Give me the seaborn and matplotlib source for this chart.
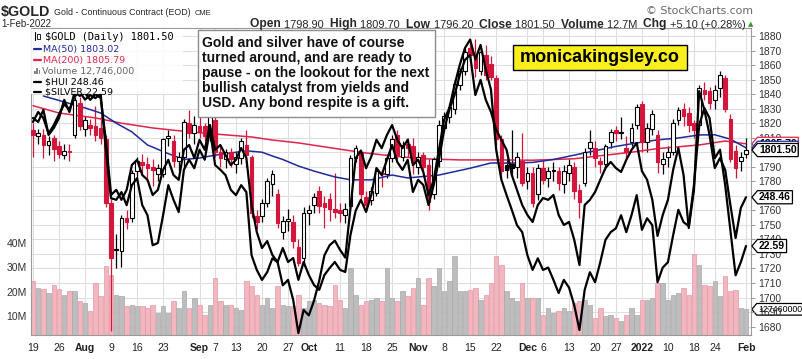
import numpy as np
import pandas as pd
import matplotlib
matplotlib.use("Agg")
import matplotlib.pyplot as plt
import matplotlib.transforms as mtransforms
from matplotlib.patches import Rectangle
from matplotlib.lines import Line2D
from matplotlib.path import Path
import seaborn as sns

W, H = 803, 359

# ---------------- data ----------------
holidays = pd.to_datetime(["2021-09-06", "2021-11-25", "2021-12-24", "2022-01-17"])
dates = pd.bdate_range("2021-07-19", "2022-02-01")
dates = dates[~dates.isin(holidays)]

opens = [1815, 1811, 1812, 1805, 1810, 1804, 1798, 1801, 1812, 1834,
         1816, 1819, 1818, 1817, 1809, 1765, 1733, 1732, 1755, 1755,
         1787, 1793, 1792, 1790, 1785, 1785, 1810, 1808, 1794, 1797,
         1820, 1813, 1818, 1818, 1812, 1822, 1800, 1795, 1800, 1792,
         1796, 1805, 1797, 1756, 1756, 1765, 1778, 1771, 1745, 1753,
         1752, 1735, 1727, 1758, 1764, 1773, 1765, 1768, 1761, 1760,
         1757, 1763, 1796, 1800, 1769, 1767, 1772, 1786, 1785, 1796,
         1812, 1797, 1806, 1804, 1790, 1798, 1791, 1771, 1794, 1817,
         1824, 1830, 1846, 1856, 1872, 1866, 1856, 1867, 1861, 1851,
         1809, 1791, 1792, 1790, 1794, 1780, 1786, 1771, 1789, 1782,
         1787, 1787, 1778, 1786, 1790, 1774, 1779, 1803, 1803, 1794,
         1792, 1807, 1815, 1813, 1803, 1807, 1819, 1833, 1807, 1816,
         1812, 1792, 1797, 1800, 1822, 1830, 1827, 1820, 1819, 1843,
         1842, 1836, 1844, 1851, 1823, 1801, 1794, 1798.9]
highs = [1820, 1816, 1816, 1811, 1812, 1808, 1806, 1806, 1838, 1838,
         1825, 1823, 1832, 1825, 1812, 1768, 1744, 1757, 1760, 1788,
         1797, 1799, 1797, 1795, 1792, 1810, 1815, 1812, 1800, 1823,
         1829, 1825, 1824, 1820, 1834, 1826, 1804, 1802, 1803, 1800,
         1810, 1815, 1798, 1760, 1768, 1782, 1788, 1775, 1756, 1761,
         1757, 1740, 1762, 1764, 1772, 1777, 1770, 1772, 1786, 1765,
         1765, 1798, 1805, 1801, 1773, 1776, 1789, 1788, 1799, 1812,
         1815, 1808, 1810, 1810, 1800, 1800, 1795, 1797, 1822, 1828,
         1833, 1850, 1858, 1872, 1876, 1878, 1872, 1874, 1866, 1853,
         1812, 1795, 1815, 1800, 1813, 1790, 1790, 1792, 1795, 1790,
         1793, 1790, 1791, 1795, 1793, 1778, 1803, 1815, 1808, 1797,
         1806, 1816, 1818, 1824, 1811, 1820, 1833, 1835, 1820, 1829,
         1815, 1800, 1804, 1823, 1831, 1834, 1831, 1822, 1846, 1848,
         1845, 1846, 1856, 1853, 1826, 1805, 1800, 1809.7]
lows = [1797, 1806, 1796, 1798, 1794, 1796, 1795, 1794, 1810, 1815,
        1811, 1812, 1808, 1806, 1762, 1677, 1720, 1721, 1747, 1752,
        1780, 1785, 1780, 1777, 1780, 1783, 1804, 1790, 1787, 1790,
        1810, 1806, 1810, 1808, 1808, 1797, 1790, 1789, 1790, 1786,
        1792, 1790, 1755, 1747, 1752, 1762, 1770, 1748, 1740, 1746,
        1734, 1722, 1722, 1750, 1758, 1758, 1748, 1753, 1755, 1752,
        1751, 1760, 1793, 1766, 1760, 1764, 1770, 1776, 1782, 1793,
        1795, 1794, 1797, 1785, 1785, 1787, 1760, 1768, 1790, 1814,
        1820, 1826, 1843, 1853, 1862, 1852, 1853, 1850, 1850, 1805,
        1782, 1782, 1784, 1782, 1777, 1775, 1762, 1767, 1778, 1776,
        1780, 1774, 1772, 1780, 1768, 1755, 1777, 1798, 1790, 1786,
        1788, 1803, 1808, 1809, 1796, 1804, 1816, 1800, 1800, 1812,
        1786, 1785, 1790, 1798, 1819, 1818, 1814, 1810, 1816, 1836,
        1830, 1830, 1838, 1828, 1793, 1782, 1787, 1796.2]
closes = [1812, 1813, 1805, 1808, 1802, 1799, 1801, 1800, 1836, 1818,
          1822, 1817, 1812, 1810, 1765, 1727, 1733, 1755, 1752, 1786,
          1794, 1791, 1789, 1788, 1789, 1809, 1811, 1794, 1797, 1821,
          1813, 1819, 1814, 1811, 1826, 1800, 1796, 1800, 1795, 1797,
          1808, 1798, 1758, 1752, 1765, 1780, 1785, 1751, 1753, 1754,
          1739, 1724, 1758, 1760, 1769, 1763, 1762, 1761, 1759, 1758,
          1761, 1796, 1803, 1771, 1764, 1773, 1787, 1785, 1796, 1809,
          1798, 1805, 1803, 1794, 1797, 1790, 1766, 1795, 1819, 1825,
          1831, 1847, 1856, 1869, 1867, 1858, 1869, 1853, 1852, 1809,
          1787, 1788, 1789, 1797, 1779, 1786, 1765, 1789, 1781, 1787,
          1787, 1779, 1787, 1791, 1773, 1766, 1800, 1807, 1796, 1792,
          1804, 1814, 1813, 1814, 1800, 1817, 1831, 1807, 1817, 1826,
          1793, 1795, 1800, 1820, 1829, 1825, 1819, 1815, 1844, 1840,
          1834, 1843, 1853, 1830, 1795, 1789, 1796.4, 1801.5]
prior_close = 1815

volume_m = [24.5, 21.5, 21.2, 19.4, 22.8, 21.2, 18.8, 20.1, 20.1, 16.0,
            15.3, 11.9, 23.5, 18.1, 30.4, 27.0, 18.8, 18.1, 14.0, 14.7,
            14.0, 14.0, 13.3, 14.7, 11.3, 14.0, 11.3, 16.0, 13.3, 20.1,
            13.3, 17.4, 14.7, 10.6, 14.7, 25.6, 16.0, 14.7, 14.7, 13.3,
            12.6, 24.2, 22.2, 18.8, 14.7, 17.4, 13.3, 22.2, 14.7, 14.0,
            14.0, 18.8, 13.3, 16.0, 16.7, 15.3, 14.7, 14.0, 22.8, 16.7,
            13.3, 29.7, 18.8, 14.7, 16.0, 16.7, 17.4, 16.0, 29.7, 17.4,
            16.0, 20.1, 18.1, 21.5, 25.6, 14.7, 25.6, 22.2, 29.7, 20.1,
            24.2, 34.6, 20.1, 20.1, 20.8, 21.5, 16.7, 18.8, 23.5, 34.6,
            31.1, 20.1, 17.4, 16.0, 23.5, 17.4, 17.4, 17.4, 10.6, 13.3,
            11.3, 11.9, 13.3, 11.9, 15.3, 16.0, 16.7, 14.7, 9.2, 13.3,
            9.9, 10.6, 9.2, 7.8, 10.6, 13.3, 10.6, 16.7, 16.7, 17.4,
            23.5, 23.5, 16.7, 18.8, 19.4, 21.5, 18.8, 35.3, 31.1, 22.8,
            22.2, 24.2, 18.1, 26.3, 20.1, 20.8, 13.3, 12.746]

hui = [274.6, 273.3, 277.3, 269.0, 271.3, 274.6, 280.6, 276.6, 283.2, 281.9,
       282.9, 280.6, 282.5, 281.2, 267.4, 249.2, 250.9, 247.6, 250.9, 259.1,
       260.8, 255.8, 254.2, 249.2, 250.9, 257.5, 260.8, 255.8, 254.2, 264.1,
       265.7, 261.4, 267.4, 264.1, 272.3, 264.1, 265.7, 262.4, 259.1, 260.8,
       264.7, 261.4, 245.9, 237.0, 231.7, 234.0, 229.4, 227.1, 231.7, 227.1,
       228.4, 221.2, 227.1, 222.8, 219.5, 217.9, 222.8, 225.1, 227.1, 224.5,
       223.8, 236.0, 244.0, 247.6, 243.6, 249.2, 258.1, 255.8, 260.8, 265.7,
       260.1, 257.5, 260.8, 250.2, 254.2, 252.5, 245.9, 252.5, 260.8, 270.7,
       277.3, 282.2, 288.8, 293.8, 295.4, 282.2, 287.2, 280.6, 276.6, 270.7,
       267.4, 264.1, 255.8, 250.9, 245.9, 242.6, 240.3, 245.9, 248.2, 247.6,
       249.2, 242.6, 239.3, 240.3, 234.4, 226.1, 245.9, 247.6, 250.2, 254.2,
       258.1, 260.1, 258.1, 256.8, 260.8, 264.1, 266.4, 257.1, 254.2, 247.6,
       235.7, 242.6, 247.6, 257.5, 264.7, 255.8, 238.3, 250.9, 283.5, 277.3,
       269.0, 258.1, 261.4, 257.5, 245.9, 235.0, 244.9, 248.46]
silver = [24.20, 24.33, 24.25, 24.05, 24.16, 24.30, 24.43, 24.36, 24.53, 24.59,
          24.49, 24.55, 24.51, 24.57, 23.84, 23.21, 23.19, 23.29, 23.12, 23.38,
          23.47, 23.12, 22.99, 22.60, 22.63, 22.99, 23.38, 23.19, 23.03, 23.58,
          23.71, 23.60, 23.84, 23.71, 24.10, 23.64, 23.58, 23.51, 23.32, 23.25,
          23.38, 23.29, 22.47, 22.28, 22.15, 22.25, 22.43, 22.38, 22.08, 22.15,
          21.89, 21.46, 21.76, 21.69, 21.88, 22.14, 22.47, 22.60, 22.66, 22.54,
          22.44, 23.08, 23.73, 23.83, 23.60, 23.75, 23.97, 23.86, 24.03, 24.16,
          23.97, 23.86, 23.97, 23.64, 23.71, 23.55, 23.25, 23.45, 23.84, 24.23,
          24.38, 24.68, 24.94, 25.16, 25.27, 25.01, 25.20, 24.88, 24.62, 23.84,
          23.45, 23.25, 23.06, 22.86, 22.77, 22.47, 22.28, 22.43, 22.28, 22.31,
          22.15, 21.98, 22.15, 22.05, 21.82, 21.50, 22.02, 22.25, 22.12, 22.38,
          22.67, 22.77, 22.82, 22.99, 22.77, 22.99, 23.25, 22.80, 22.95, 22.86,
          22.12, 22.31, 22.38, 22.73, 23.06, 22.90, 22.85, 23.38, 24.16, 24.38,
          24.25, 23.73, 23.84, 23.38, 22.80, 22.21, 22.38, 22.59]

ma50_idx = [2, 6, 10, 13, 16, 19, 22, 26, 29, 32, 35, 38, 41, 44, 46, 48, 51, 54,
            58, 61, 65, 69, 72, 78, 84, 88, 92, 96, 100, 104, 108, 112, 116, 120,
            124, 128, 131, 134, 137]
ma50_val = [1838.7, 1834.6, 1830.5, 1827.0, 1820.0, 1814.0, 1805.0, 1799.0, 1795.0,
            1796.0, 1798.0, 1799.5, 1801.0, 1800.0, 1797.4, 1795.0, 1790.5, 1787.0,
            1783.0, 1781.0, 1781.0, 1784.3, 1782.3, 1784.3, 1789.0, 1792.6, 1792.5,
            1793.0, 1795.0, 1798.0, 1801.0, 1804.0, 1806.4, 1808.5, 1809.8, 1811.9,
            1812.0, 1809.0, 1803.02]
ma200_idx = [0, 5, 12, 17, 23, 30, 42, 46, 51, 61, 64, 69, 75, 82, 90, 96, 104,
             110, 115, 120, 128, 133, 137]
ma200_val = [1832.0, 1827.0, 1823.6, 1820.0, 1816.7, 1814.0, 1810.5, 1808.4, 1806.4,
             1801.0, 1799.5, 1797.4, 1795.5, 1794.7, 1794.7, 1794.5, 1795.5, 1798.0,
             1800.0, 1802.5, 1805.0, 1807.7, 1805.79]

xlabel_dates = ["2021-07-19", "2021-07-26", "2021-08-02", "2021-08-09", "2021-08-16",
                "2021-08-23", "2021-09-01", "2021-09-07", "2021-09-13", "2021-09-20",
                "2021-09-27", "2021-10-01", "2021-10-11", "2021-10-18", "2021-10-25",
                "2021-11-01", "2021-11-08", "2021-11-15", "2021-11-22", "2021-12-01",
                "2021-12-06", "2021-12-13", "2021-12-20", "2021-12-27", "2022-01-03",
                "2022-01-10", "2022-01-18", "2022-01-24", "2022-02-01"]
xlabel_text = ["19", "26", "Aug", "9", "16", "23", "Sep", "7", "13", "20", "27", "Oct",
               "11", "18", "25", "Nov", "8", "15", "22", "Dec", "6", "13", "20", "27",
               "2022", "10", "18", "24", "Feb"]
bold_labels = {"Aug", "Sep", "Oct", "Nov", "Dec", "2022", "Feb"}

note_lines = ["Gold and silver have of course",
              "turned around, and are ready to",
              "pause - on the lookout for the next",
              "bullish catalyst from yields and",
              "USD. Any bond respite is a gift."]

# ---------------- style ----------------
sns.set_theme(style="white")
plt.rcParams["font.family"] = ["Liberation Sans", "DejaVu Sans"]

RED = "#d4163c"
BLUE = "#1f2a9c"
MA_RED = "#e0244c"
GRID = "#dedede"

fig = plt.figure(figsize=(W / 100, H / 100), dpi=100)
fig.patch.set_facecolor("white")


def fy(py):
    return 1 - py / H


rect = [31 / W, 1 - 335 / H, 720 / W, 307 / H]
xlim = (-0.38, 137.96)
price_lim = (1674.2, 1885.5)
x = np.arange(len(dates))
tick_idx = [dates.get_loc(pd.Timestamp(d)) for d in xlabel_dates]


def new_ax():
    a = fig.add_axes(rect)
    a.set_xlim(*xlim)
    a.patch.set_alpha(0)
    return a


# background grid
ax_bg = new_ax()
ax_bg.set_ylim(*price_lim)
ax_bg.vlines(tick_idx, *price_lim, color=GRID, lw=0.8)
ax_bg.hlines(np.arange(1680, 1881, 10), *xlim, color=GRID, lw=0.8)
ax_bg.axis("off")

# up / down days
o = np.array(opens)
c = np.array(closes)
prev = np.concatenate([[prior_close], c[:-1]])
up = c >= prev

# volume
ax_vol = new_ax()
vcol = np.where(up, "#bdbdbd", "#f2b6c0")
vedge = np.where(up, "#a8a8a8", "#e497a4")
ax_vol.bar(x, volume_m, width=0.86, color=vcol, edgecolor=vedge, linewidth=0.5)
ax_vol.set_ylim(2.18, 128.4)
ax_vol.set_yticks([10, 20, 30, 40], ["10M", "20M", "30M", "40M"])
ax_vol.tick_params(axis="y", length=0, pad=3, labelsize=7.5, labelcolor="#333")
ax_vol.tick_params(axis="x", bottom=False, labelbottom=False)
for s in ax_vol.spines.values():
    s.set_visible(False)

# price candles
ax = new_ax()
line_col = np.where(up, "black", RED)
face = np.where(c >= o, "white", line_col)
ax.vlines(x, lows, highs, colors=line_col, lw=0.9, zorder=2)
body_low = np.minimum(o, c)
body_h = np.maximum(np.abs(c - o), 0.6)
ax.bar(x, body_h, bottom=body_low, width=0.7, color=face, edgecolor=line_col,
       linewidth=0.8, zorder=3)
sns.lineplot(x=ma200_idx, y=ma200_val, ax=ax, color=MA_RED, linewidth=1.1,
             estimator=None, sort=False, legend=False)
sns.lineplot(x=ma50_idx, y=ma50_val, ax=ax, color=BLUE, linewidth=1.1,
             estimator=None, sort=False, legend=False)
ax.set_xlim(*xlim)
ax.set_ylim(*price_lim)
ax.set_xlabel("")
ax.set_ylabel("")
ax.yaxis.tick_right()
ax.set_yticks(np.arange(1680, 1881, 10))
ax.tick_params(axis="y", direction="out", length=3, width=0.6, color="#888",
               pad=2, labelsize=7.5, labelcolor="#333", right=True, left=False)
ax.set_xticks(tick_idx, xlabel_text)
ax.tick_params(axis="x", length=0, pad=5.5, labelsize=7.5, labelcolor="#222")
for lab in ax.get_xticklabels():
    if lab.get_text() in bold_labels:
        lab.set_fontweight("bold")
for s in ax.spines.values():
    s.set_color("#9a9a9a")
    s.set_linewidth(0.8)

# overlays on their own scales
ax_h = new_ax()
sns.lineplot(x=x, y=hui, ax=ax_h, color="black", linewidth=1.6,
             estimator=None, sort=False, legend=False)
ax_h.set_xlim(*xlim)
ax_h.set_ylim(203, 304.31)
ax_h.axis("off")

ax_s = new_ax()
sns.lineplot(x=x, y=silver, ax=ax_s, color="black", linewidth=1.6,
             estimator=None, sort=False, legend=False)
ax_s.set_xlim(*xlim)
ax_s.set_ylim(21.435, 25.42)
ax_s.axis("off")


# value tags on the right edge
def tag_box(x0, y0, width, height, mutation_size):
    pad = mutation_size * 0.15
    x0, y0 = x0 - pad, y0 - pad
    x1, y1 = x0 + width + 2 * pad, y0 + height + 2 * pad
    tip = (y1 - y0) * 0.42
    return Path([(x0, y0), (x1, y0), (x1, y1), (x0, y1),
                 (x0 - tip, (y0 + y1) / 2), (x0, y0)], closed=True)


def value_tag(axis, val, text, ec="black", bold=True, z=10, size=7.5, left=759):
    tr = mtransforms.blended_transform_factory(fig.transFigure, axis.transData)
    axis.text(left / W, val, text, transform=tr, ha="left", va="center",
              fontsize=size, fontweight="bold" if bold else "normal", color="black",
              bbox=dict(boxstyle=tag_box, fc="white", ec=ec, lw=0.9),
              clip_on=False, zorder=z)


value_tag(ax, ma200_val[-1], "1805.79", ec=MA_RED, z=8)
value_tag(ax, ma50_val[-1], "1803.02", ec=BLUE, z=9)
value_tag(ax, closes[-1], "%.2f" % closes[-1], z=10)
value_tag(ax_h, hui[-1], "%.2f" % hui[-1])
value_tag(ax_s, silver[-1], "%.2f" % silver[-1])
value_tag(ax_vol, volume_m[-1], "%d" % round(volume_m[-1] * 1e5) + "00", bold=False,
          size=6.3, left=758)

# ---------------- header ----------------
fig.text(1 / W, fy(16), "$GOLD", fontsize=10.3, fontweight="bold", va="baseline")
fig.text(54 / W, fy(15), "Gold - Continuous Contract (EOD)", fontsize=6.4, va="baseline")
fig.text(195 / W, fy(15), "CME", fontsize=5.4, va="baseline")
fig.text(1 / W, fy(27), "1-Feb-2022", fontsize=7, va="baseline")
fig.text(753 / W, fy(14), "\u00a9 StockCharts.com", fontsize=7.8, color="#666",
         ha="right", va="baseline", family="DejaVu Sans")

renderer = fig.canvas.get_renderer()
stat_parts = [("Open ", True), ("1798.90  ", False), ("High ", True), ("1809.70  ", False),
              ("Low ", True), ("1796.20  ", False), ("Close ", True), ("1801.50  ", False),
              ("Volume ", True), ("12.7M  ", False), ("Chg ", True), ("+5.10 (+0.28%)", False)]
texts = []
total = 0
for s, b in stat_parts:
    t = fig.text(0, fy(27.5), s, fontsize=8.65 if b else 7.9,
                 fontweight="bold" if b else "normal", va="baseline")
    w = t.get_window_extent(renderer).width
    texts.append((t, w))
    total += w
xpos = 746 - total
for t, w in texts:
    t.set_x(xpos / W)
    xpos += w
fig.text(748 / W, fy(26), "\u25b2", fontsize=5, color="#2c9a2c", va="baseline",
         family="DejaVu Sans")

# ---------------- legend (top-left) ----------------
fig.add_artist(Rectangle((31.5 / W, fy(94)), 152 / W, 65 / H, transform=fig.transFigure,
                         fc="white", ec="none", alpha=0.88, zorder=4))
leg = [("$GOLD (Daily) 1801.50", "black", 40, None),
       ("MA(50) 1803.02", BLUE, 52, BLUE),
       ("MA(200) 1805.79", MA_RED, 63, MA_RED),
       ("Volume 12,746,000", "#666", 74, None),
       ("$HUI 248.46", "black", 85, "black"),
       ("$SILVER 22.59", "black", 95, "black")]
for i, (s, col, base, dash) in enumerate(leg):
    if i == 0:
        fig.text(45 / W, fy(base), s, fontsize=7.4, color=col, va="baseline",
                 family="DejaVu Sans Mono", zorder=6)
        fig.add_artist(Line2D([35 / W, 35 / W], [fy(base), fy(base - 8)], color="black",
                              lw=0.8, transform=fig.transFigure, zorder=6))
        fig.add_artist(Rectangle((37.5 / W, fy(base - 1)), 3 / W, 5 / H, fc="white", ec="black",
                                 lw=0.6, transform=fig.transFigure, zorder=6))
    elif dash is None:
        for k, hgt in enumerate([3, 6, 4]):
            fig.add_artist(Rectangle(((34 + 2.3 * k) / W, fy(base)), 1.6 / W, hgt / H,
                                     fc="#888", ec="none", transform=fig.transFigure, zorder=6))
        fig.text(42 / W, fy(base), s, fontsize=6.8, color=col, va="baseline",
                 family="DejaVu Sans", zorder=6)
    else:
        fig.add_artist(Line2D([34 / W, 41 / W], [fy(base - 3.2), fy(base - 3.2)], color=dash,
                              lw=1.6, transform=fig.transFigure, zorder=6))
        off = 43 if i < 3 else 45
        fig.text(off / W, fy(base), s, fontsize=6.8, color=col, va="baseline",
                 family="DejaVu Sans", zorder=6)

# ---------------- comment box ----------------
fig.add_artist(Rectangle((198 / W, fy(117)), 237 / W, 87 / H, transform=fig.transFigure,
                         fc="white", ec="#8c8c8c", lw=1.0, zorder=4))
for k, s in enumerate(note_lines):
    fig.text(202 / W, fy(47 + 15 * k), s, fontsize=10, fontweight="bold", va="baseline",
             color="#111", zorder=6)

# ---------------- site banner ----------------
fig.add_artist(Rectangle((513 / W, fy(70)), 174 / W, 25 / H, transform=fig.transFigure,
                         fc="#f8ef1c", ec="black", lw=1.0, zorder=4))
fig.text(600 / W, fy(62), "monicakingsley.co", fontsize=13, fontweight="bold",
         ha="center", va="baseline", color="black", zorder=6)

fig.savefig("out.png", dpi=100, facecolor="white")
